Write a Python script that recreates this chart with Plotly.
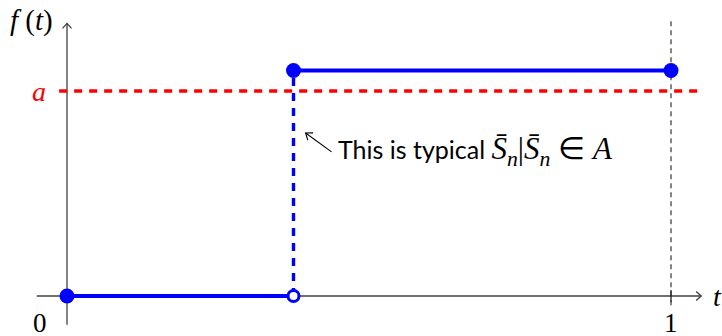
import math
import plotly.graph_objects as go

# ---- step function f(t) on [0, 1] ----
t_start = 0.0
t_jump = 0.375
t_end = 1.0
low_level = 0.0
high_level = 1.1
a_level = 1.0

# ---- axis extents (data units) ----
x_axis_span = [-0.05, 1.05]
y_axis_span = [-0.14, 1.33]
guide_span = [-0.045, 1.34]     # dashed guide at t = 1
a_span = [-0.013, 1.05]         # red dashed threshold

# ---- callout ----
callout_head = (0.395, 0.795)
callout_tail = (0.438, 0.703)
callout_text_pos = (0.445, 0.705)

W, H = 722, 336
x_range = [-67 / 604, 655 / 604]
y_range = [-40 / 205, 296 / 205]
px_x = (x_range[1] - x_range[0]) / W
px_y = (y_range[1] - y_range[0]) / H

BLUE = "#0000ff"
RED = "#ff0000"
AXIS = "#404040"
SERIF = "Liberation Serif"
SANS = "Lato"

fig = go.Figure()

# dashed guide at t = 1
fig.add_trace(go.Scatter(x=[t_end, t_end], y=guide_span, mode="lines",
                         line=dict(color="#333333", width=1.2, dash="5px,4px"),
                         hoverinfo="skip"))

# axes
fig.add_trace(go.Scatter(x=x_axis_span, y=[0, 0], mode="lines",
                         line=dict(color=AXIS, width=1.3), hoverinfo="skip"))
fig.add_trace(go.Scatter(x=[0, 0], y=y_axis_span, mode="lines",
                         line=dict(color=AXIS, width=1.3), hoverinfo="skip"))
# tick at t = 1
fig.add_trace(go.Scatter(x=[t_end, t_end], y=[-6 * px_y, 6 * px_y], mode="lines",
                         line=dict(color="#222222", width=1.3), hoverinfo="skip"))


def chevron(tip_x, tip_y, dx, dy, length, half):
    # open arrow head pointing along (dx, dy) in pixel space
    n = math.hypot(dx, dy)
    ux, uy = dx / n, dy / n
    bx, by = -ux * length, -uy * length
    nx, ny = -uy * half, ux * half
    p1 = (tip_x + (bx + nx) * px_x, tip_y + (by + ny) * px_y)
    p2 = (tip_x + (bx - nx) * px_x, tip_y + (by - ny) * px_y)
    return [p1[0], tip_x, p2[0]], [p1[1], tip_y, p2[1]]


for (tx, ty, dx, dy) in [(x_axis_span[1], 0, 1, 0), (0, y_axis_span[1], 0, 1)]:
    cx, cy = chevron(tx, ty, dx, dy, 5, 4.5)
    fig.add_trace(go.Scatter(x=cx, y=cy, mode="lines",
                             line=dict(color=AXIS, width=1.3), hoverinfo="skip"))

# red threshold
fig.add_trace(go.Scatter(x=a_span, y=[a_level, a_level], mode="lines",
                         line=dict(color=RED, width=3.4, dash="8px,7px"),
                         hoverinfo="skip"))

# jump (dashed)
fig.add_trace(go.Scatter(x=[t_jump, t_jump], y=[low_level, high_level], mode="lines",
                         line=dict(color=BLUE, width=3.4, dash="8px,7px"),
                         hoverinfo="skip"))

# solid pieces
fig.add_trace(go.Scatter(x=[t_start, t_jump], y=[low_level, low_level], mode="lines",
                         line=dict(color=BLUE, width=4), hoverinfo="skip"))
fig.add_trace(go.Scatter(x=[t_jump, t_end], y=[high_level, high_level], mode="lines",
                         line=dict(color=BLUE, width=4), hoverinfo="skip"))

# endpoints
fig.add_trace(go.Scatter(x=[t_start, t_jump, t_end], y=[low_level, high_level, high_level],
                         mode="markers", marker=dict(color=BLUE, size=15, line=dict(width=0)),
                         hoverinfo="skip"))
fig.add_trace(go.Scatter(x=[t_jump], y=[low_level], mode="markers",
                         marker=dict(color="white", size=11, line=dict(color=BLUE, width=3)),
                         hoverinfo="skip"))

# callout arrow
fig.add_trace(go.Scatter(x=[callout_tail[0], callout_head[0]],
                         y=[callout_tail[1], callout_head[1]], mode="lines",
                         line=dict(color="black", width=1.1), hoverinfo="skip"))
ddx = (callout_head[0] - callout_tail[0]) / px_x
ddy = (callout_head[1] - callout_tail[1]) / px_y
cx, cy = chevron(callout_head[0], callout_head[1], ddx, ddy, 6, 4.5)
fig.add_trace(go.Scatter(x=cx, y=cy, mode="lines",
                         line=dict(color="black", width=1.1), hoverinfo="skip"))


def label(x, y, text, size=28, color="black", xanchor="center", yanchor="middle", family=SERIF):
    fig.add_annotation(x=x, y=y, text=text, showarrow=False, xanchor=xanchor,
                       yanchor=yanchor, font=dict(family=family, size=size, color=color))


label(-0.058, 1.345, "<i>f</i> (<i>t</i>)", size=29)
label(-0.047, a_level, "<i>a</i>", color=RED)
label(-0.045, -0.13, "0", size=27)
label(t_end, -0.13, "1", size=27)
label(1.077, 0.0, "<i>t</i>")

math_part = ("<span style=\"font-family:'%s';font-size:31px\"><i>S\u0304<sub>n</sub></i>|"
             "<i>S\u0304<sub>n</sub></i> \u2208 <i>A</i></span>" % SERIF)
label(callout_text_pos[0], callout_text_pos[1], "This is typical " + math_part,
      xanchor="left", family=SANS, size=25)

fig.update_layout(
    width=W, height=H, autosize=False,
    margin=dict(l=0, r=0, t=0, b=0),
    paper_bgcolor="white", plot_bgcolor="white",
    showlegend=False,
    xaxis=dict(range=x_range, visible=False, fixedrange=True),
    yaxis=dict(range=y_range, visible=False, fixedrange=True),
)

fig.write_html("out.html")
